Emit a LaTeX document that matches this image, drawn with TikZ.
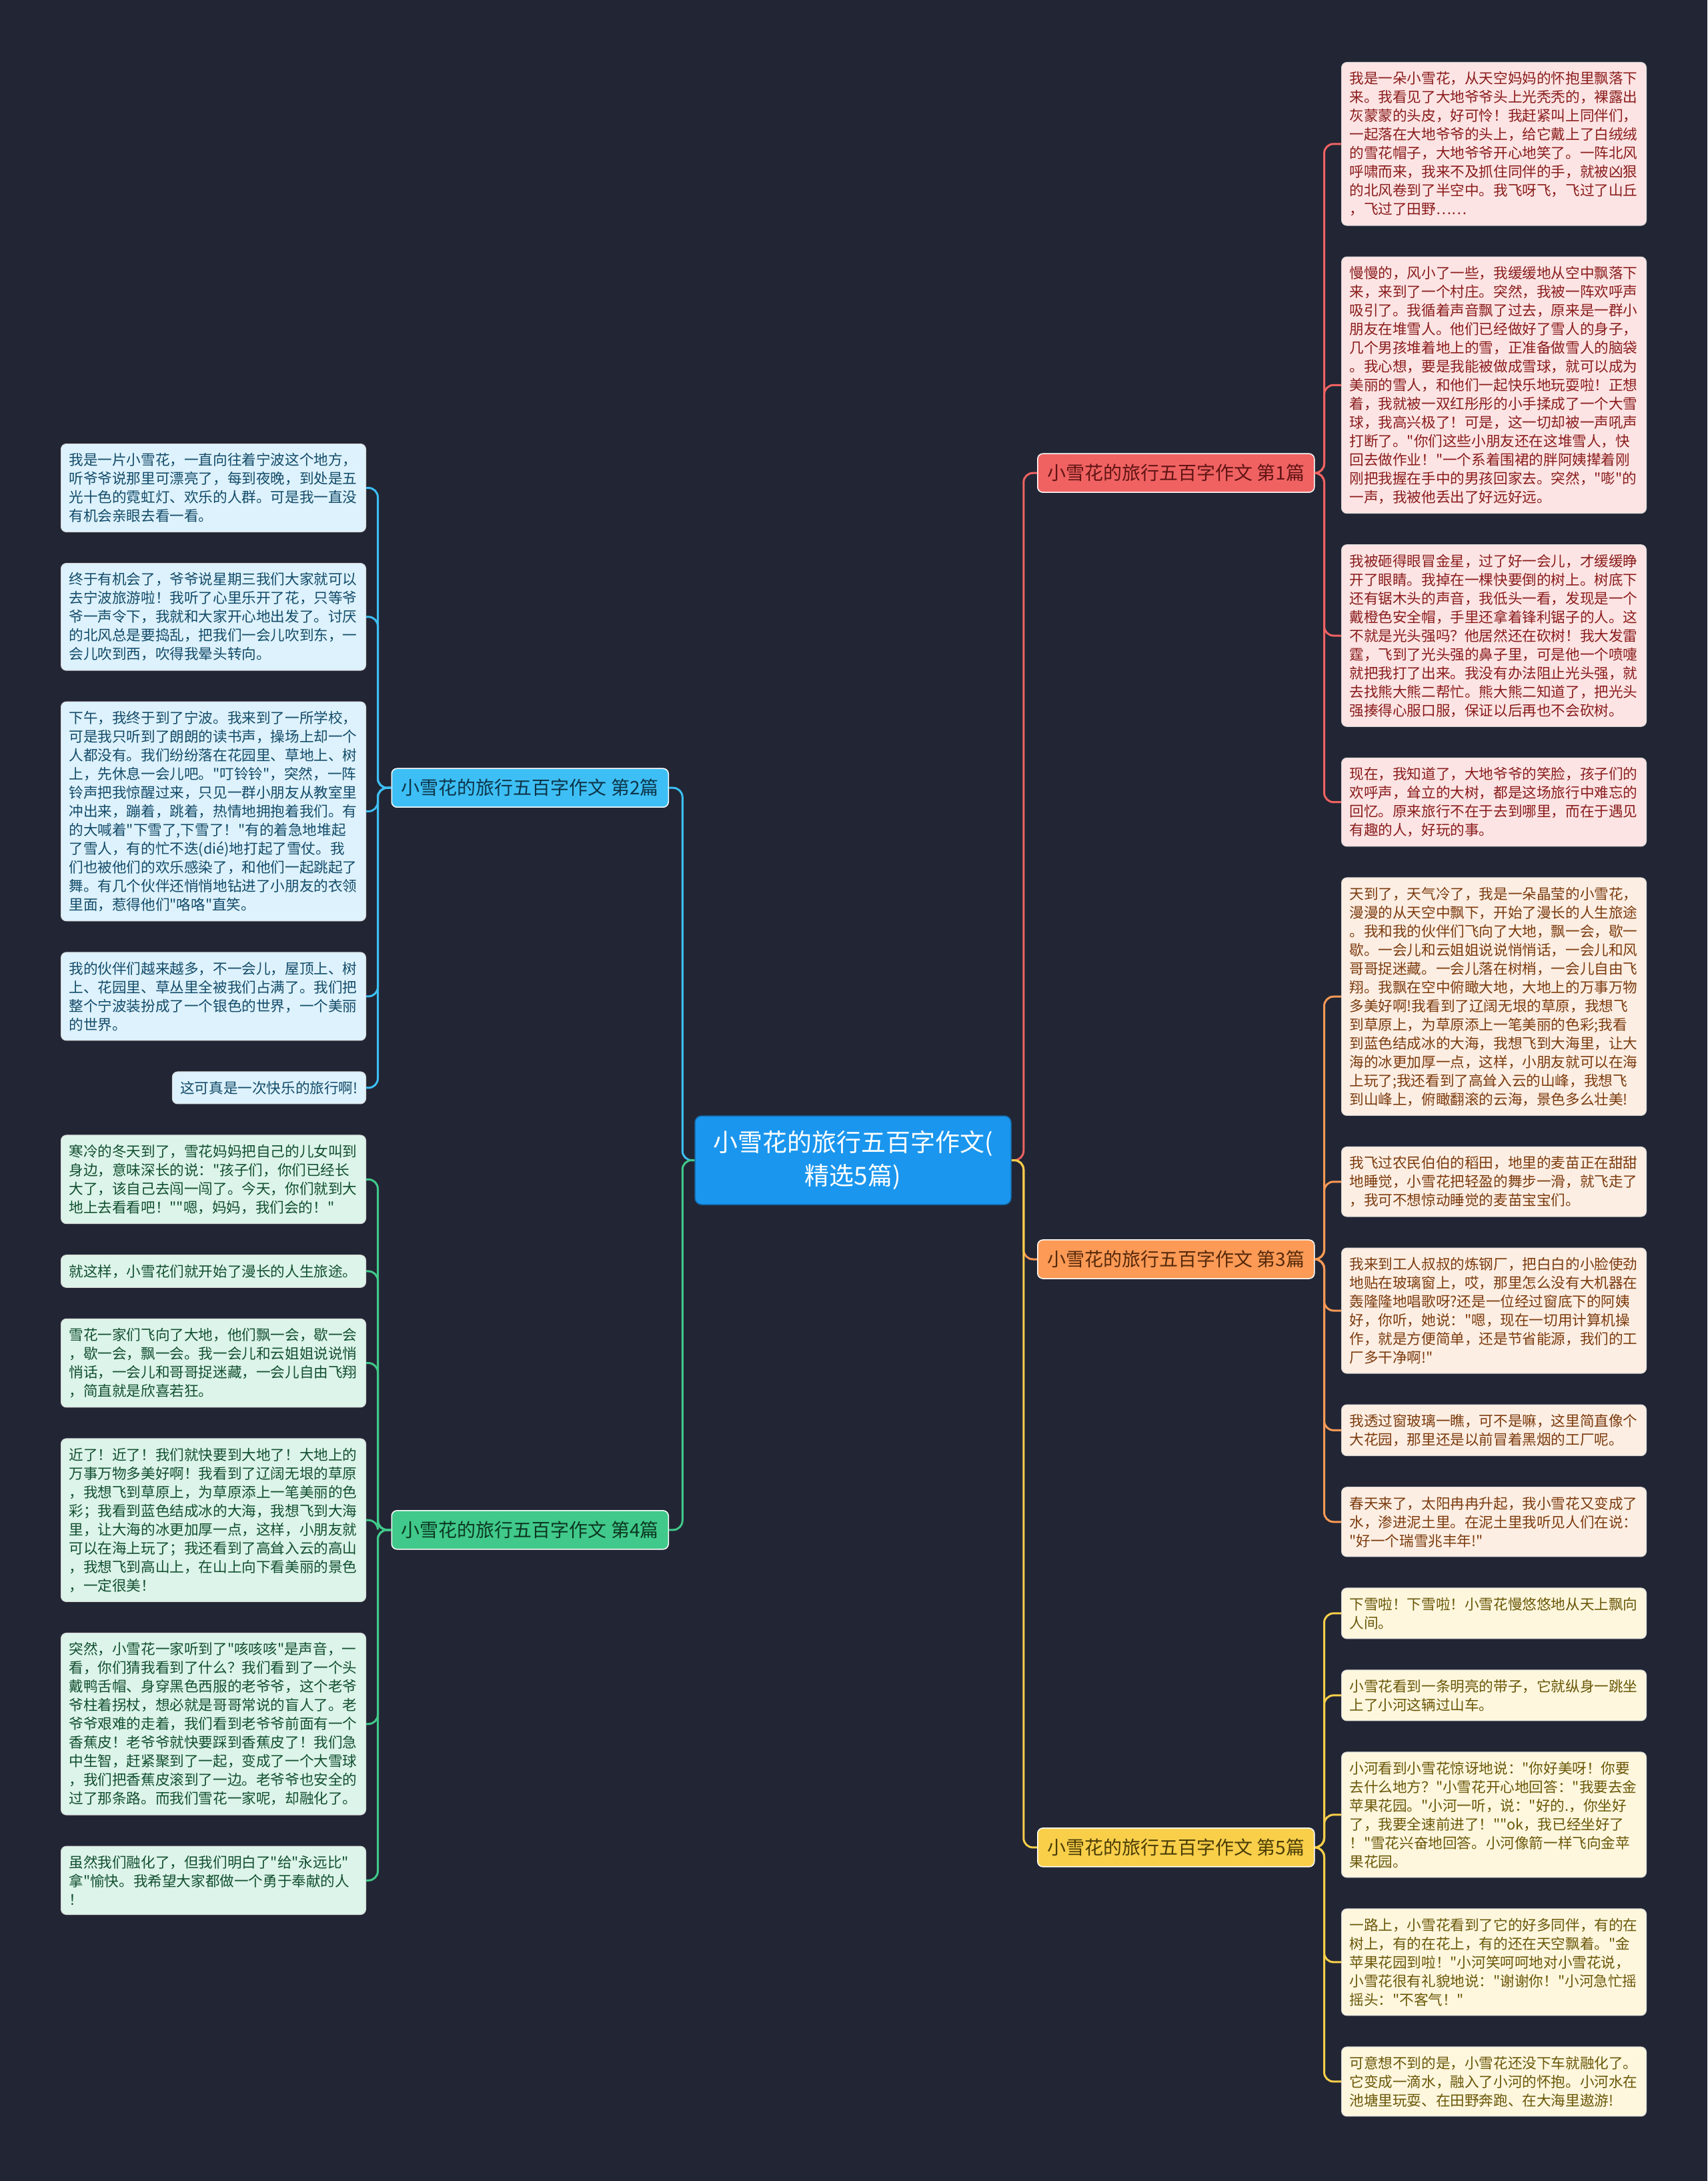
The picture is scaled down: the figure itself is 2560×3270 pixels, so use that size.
\documentclass[tikz,border=0pt]{standalone}
\usepackage{fontspec}
\setmainfont{Noto Sans CJK SC}[Ligatures=TeXOff]
\usetikzlibrary{positioning,calc}

\definecolor{bgdark}{HTML}{222634}
\definecolor{rootblue}{HTML}{1A96EE}
\definecolor{redmain}{HTML}{F06262}
\definecolor{redleaf}{HTML}{FDE4E4}
\definecolor{redtext}{HTML}{8A1C1C}
\definecolor{orgmain}{HTML}{FC9A56}
\definecolor{orgleaf}{HTML}{FDEEE3}
\definecolor{orgtext}{HTML}{7B3B0E}
\definecolor{yelmain}{HTML}{F9CF4A}
\definecolor{yelleaf}{HTML}{FEF7DE}
\definecolor{yeltext}{HTML}{6A5708}
\definecolor{bluemain}{HTML}{3DBFF5}
\definecolor{blueleaf}{HTML}{DDF2FC}
\definecolor{bluetext}{HTML}{134B69}
\definecolor{grnmain}{HTML}{40C98A}
\definecolor{grnleaf}{HTML}{DCF4E9}
\definecolor{grntext}{HTML}{124F30}

\newcommand{\leaffont}{\fontsize{21.6}{28}\selectfont}
\newcommand{\branchfont}{\fontsize{28}{34}\selectfont}
\newcommand{\rootfont}{\fontsize{37}{50}\selectfont}

\begin{document}
\begin{tikzpicture}[x=1pt, y=-1pt,
  leaf/.style={rounded corners=8pt, inner xsep=12pt, inner ysep=14pt, align=left,
    text width=433pt, font=\leaffont, draw=white!85!black, line width=1pt},
  branch/.style={rounded corners=8pt, minimum width=415pt, minimum height=58pt,
    inner sep=0pt, font=\branchfont, draw=white, line width=1.5pt},
  link/.style={line width=3pt, rounded corners=14pt}]
\fill[bgdark] (0,0) rectangle (2560,3270);
\useasboundingbox (0,0) rectangle (2560,3270);

% right side leaves
\node[leaf, fill=redleaf, text=redtext, anchor=north west] (r1a) at (2011,93)
 {我是一朵小雪花，从天空妈妈的怀抱里飘落下\\来。我看见了大地爷爷头上光秃秃的，裸露出\\灰蒙蒙的头皮，好可怜！我赶紧叫上同伴们，\\一起落在大地爷爷的头上，给它戴上了白绒绒\\的雪花帽子，大地爷爷开心地笑了。一阵北风\\呼啸而来，我来不及抓住同伴的手，就被凶狠\\的北风卷到了半空中。我飞呀飞，飞过了山丘\\，飞过了田野……};
\node[leaf, fill=redleaf, text=redtext, below=46pt of r1a.south west, anchor=north west] (r1b)
 {慢慢的，风小了一些，我缓缓地从空中飘落下\\来，来到了一个村庄。突然，我被一阵欢呼声\\吸引了。我循着声音飘了过去，原来是一群小\\朋友在堆雪人。他们已经做好了雪人的身子，\\几个男孩堆着地上的雪，正准备做雪人的脑袋\\。我心想，要是我能被做成雪球，就可以成为\\美丽的雪人，和他们一起快乐地玩耍啦！正想\\着，我就被一双红彤彤的小手揉成了一个大雪\\球，我高兴极了！可是，这一切却被一声吼声\\打断了。"你们这些小朋友还在这堆雪人，快\\回去做作业！"一个系着围裙的胖阿姨撵着刚\\刚把我握在手中的男孩回家去。突然，"嘭"的\\一声，我被他丢出了好远好远。};
\node[leaf, fill=redleaf, text=redtext, below=46pt of r1b.south west, anchor=north west] (r1c)
 {我被砸得眼冒金星，过了好一会儿，才缓缓睁\\开了眼睛。我掉在一棵快要倒的树上。树底下\\还有锯木头的声音，我低头一看，发现是一个\\戴橙色安全帽，手里还拿着锋利锯子的人。这\\不就是光头强吗？他居然还在砍树！我大发雷\\霆，飞到了光头强的鼻子里，可是他一个喷嚏\\就把我打了出来。我没有办法阻止光头强，就\\去找熊大熊二帮忙。熊大熊二知道了，把光头\\强揍得心服口服，保证以后再也不会砍树。};
\node[leaf, fill=redleaf, text=redtext, below=46pt of r1c.south west, anchor=north west] (r1d)
 {现在，我知道了，大地爷爷的笑脸，孩子们的\\欢呼声，耸立的大树，都是这场旅行中难忘的\\回忆。原来旅行不在于去到哪里，而在于遇见\\有趣的人，好玩的事。};
\node[leaf, fill=orgleaf, text=orgtext, below=46pt of r1d.south west, anchor=north west] (r3a)
 {天到了，天气冷了，我是一朵晶莹的小雪花，\\漫漫的从天空中飘下，开始了漫长的人生旅途\\。我和我的伙伴们飞向了大地，飘一会，歇一\\歇。一会儿和云姐姐说说悄悄话，一会儿和风\\哥哥捉迷藏。一会儿落在树梢，一会儿自由飞\\翔。我飘在空中俯瞰大地，大地上的万事万物\\多美好啊!我看到了辽阔无垠的草原，我想飞\\到草原上，为草原添上一笔美丽的色彩;我看\\到蓝色结成冰的大海，我想飞到大海里，让大\\海的冰更加厚一点，这样，小朋友就可以在海\\上玩了;我还看到了高耸入云的山峰，我想飞\\到山峰上，俯瞰翻滚的云海，景色多么壮美!};
\node[leaf, fill=orgleaf, text=orgtext, below=46pt of r3a.south west, anchor=north west] (r3b)
 {我飞过农民伯伯的稻田，地里的麦苗正在甜甜\\地睡觉，小雪花把轻盈的舞步一滑，就飞走了\\，我可不想惊动睡觉的麦苗宝宝们。};
\node[leaf, fill=orgleaf, text=orgtext, below=46pt of r3b.south west, anchor=north west] (r3c)
 {我来到工人叔叔的炼钢厂，把白白的小脸使劲\\地贴在玻璃窗上，哎，那里怎么没有大机器在\\轰隆隆地唱歌呀?还是一位经过窗底下的阿姨\\好，你听，她说："嗯，现在一切用计算机操\\作，就是方便简单，还是节省能源，我们的工\\厂多干净啊!"};
\node[leaf, fill=orgleaf, text=orgtext, below=46pt of r3c.south west, anchor=north west] (r3d)
 {我透过窗玻璃一瞧，可不是嘛，这里简直像个\\大花园，那里还是以前冒着黑烟的工厂呢。};
\node[leaf, fill=orgleaf, text=orgtext, below=46pt of r3d.south west, anchor=north west] (r3e)
 {春天来了，太阳冉冉升起，我小雪花又变成了\\水，渗进泥土里。在泥土里我听见人们在说：\\"好一个瑞雪兆丰年!"};
\node[leaf, fill=yelleaf, text=yeltext, below=46pt of r3e.south west, anchor=north west] (r5a)
 {下雪啦！下雪啦！小雪花慢悠悠地从天上飘向\\人间。};
\node[leaf, fill=yelleaf, text=yeltext, below=46pt of r5a.south west, anchor=north west] (r5b)
 {小雪花看到一条明亮的带子，它就纵身一跳坐\\上了小河这辆过山车。};
\node[leaf, fill=yelleaf, text=yeltext, below=46pt of r5b.south west, anchor=north west] (r5c)
 {小河看到小雪花惊讶地说："你好美呀！你要\\去什么地方？"小雪花开心地回答："我要去金\\苹果花园。"小河一听，说："好的.，你坐好\\了，我要全速前进了！""ok，我已经坐好了\\！"雪花兴奋地回答。小河像箭一样飞向金苹\\果花园。};
\node[leaf, fill=yelleaf, text=yeltext, below=46pt of r5c.south west, anchor=north west] (r5d)
 {一路上，小雪花看到了它的好多同伴，有的在\\树上，有的在花上，有的还在天空飘着。"金\\苹果花园到啦！"小河笑呵呵地对小雪花说，\\小雪花很有礼貌地说："谢谢你！"小河急忙摇\\摇头："不客气！"};
\node[leaf, fill=yelleaf, text=yeltext, below=46pt of r5d.south west, anchor=north west] (r5e)
 {可意想不到的是，小雪花还没下车就融化了。\\它变成一滴水，融入了小河的怀抱。小河水在\\池塘里玩耍、在田野奔跑、在大海里遨游!};

% left side leaves
\node[leaf, fill=blueleaf, text=bluetext, anchor=north east] (l2a) at (549,665)
 {我是一片小雪花，一直向往着宁波这个地方，\\听爷爷说那里可漂亮了，每到夜晚，到处是五\\光十色的霓虹灯、欢乐的人群。可是我一直没\\有机会亲眼去看一看。};
\node[leaf, fill=blueleaf, text=bluetext, below=46pt of l2a.south east, anchor=north east] (l2b)
 {终于有机会了，爷爷说星期三我们大家就可以\\去宁波旅游啦！我听了心里乐开了花，只等爷\\爷一声令下，我就和大家开心地出发了。讨厌\\的北风总是要捣乱，把我们一会儿吹到东，一\\会儿吹到西，吹得我晕头转向。};
\node[leaf, fill=blueleaf, text=bluetext, below=46pt of l2b.south east, anchor=north east] (l2c)
 {下午，我终于到了宁波。我来到了一所学校，\\可是我只听到了朗朗的读书声，操场上却一个\\人都没有。我们纷纷落在花园里、草地上、树\\上，先休息一会儿吧。"叮铃铃"，突然，一阵\\铃声把我惊醒过来，只见一群小朋友从教室里\\冲出来，蹦着，跳着，热情地拥抱着我们。有\\的大喊着"下雪了,下雪了！"有的着急地堆起\\了雪人，有的忙不迭(dié)地打起了雪仗。我\\们也被他们的欢乐感染了，和他们一起跳起了\\舞。有几个伙伴还悄悄地钻进了小朋友的衣领\\里面，惹得他们"咯咯"直笑。};
\node[leaf, fill=blueleaf, text=bluetext, below=46pt of l2c.south east, anchor=north east] (l2d)
 {我的伙伴们越来越多，不一会儿，屋顶上、树\\上、花园里、草丛里全被我们占满了。我们把\\整个宁波装扮成了一个银色的世界，一个美丽\\的世界。};
\node[leaf, fill=blueleaf, text=bluetext, text width=, below=46pt of l2d.south east, anchor=north east] (l2e)
 {这可真是一次快乐的旅行啊!};
\node[leaf, fill=grnleaf, text=grntext, below=46pt of l2e.south east, anchor=north east] (l4a)
 {寒冷的冬天到了，雪花妈妈把自己的儿女叫到\\身边，意味深长的说："孩子们，你们已经长\\大了，该自己去闯一闯了。今天，你们就到大\\地上去看看吧！""嗯，妈妈，我们会的！"};
\node[leaf, fill=grnleaf, text=grntext, below=46pt of l4a.south east, anchor=north east] (l4b)
 {就这样，小雪花们就开始了漫长的人生旅途。};
\node[leaf, fill=grnleaf, text=grntext, below=46pt of l4b.south east, anchor=north east] (l4c)
 {雪花一家们飞向了大地，他们飘一会，歇一会\\，歇一会，飘一会。我一会儿和云姐姐说说悄\\悄话，一会儿和哥哥捉迷藏，一会儿自由飞翔\\，简直就是欣喜若狂。};
\node[leaf, fill=grnleaf, text=grntext, below=46pt of l4c.south east, anchor=north east] (l4d)
 {近了！近了！我们就快要到大地了！大地上的\\万事万物多美好啊！我看到了辽阔无垠的草原\\，我想飞到草原上，为草原添上一笔美丽的色\\彩；我看到蓝色结成冰的大海，我想飞到大海\\里，让大海的冰更加厚一点，这样，小朋友就\\可以在海上玩了；我还看到了高耸入云的高山\\，我想飞到高山上，在山上向下看美丽的景色\\，一定很美！};
\node[leaf, fill=grnleaf, text=grntext, below=46pt of l4d.south east, anchor=north east] (l4e)
 {突然，小雪花一家听到了"咳咳咳"是声音，一\\看，你们猜我看到了什么？我们看到了一个头\\戴鸭舌帽、身穿黑色西服的老爷爷，这个老爷\\爷柱着拐杖，想必就是哥哥常说的盲人了。老\\爷爷艰难的走着，我们看到老爷爷前面有一个\\香蕉皮！老爷爷就快要踩到香蕉皮了！我们急\\中生智，赶紧聚到了一起，变成了一个大雪球\\，我们把香蕉皮滚到了一边。老爷爷也安全的\\过了那条路。而我们雪花一家呢，却融化了。};
\node[leaf, fill=grnleaf, text=grntext, below=46pt of l4e.south east, anchor=north east] (l4f)
 {虽然我们融化了，但我们明白了"给"永远比"\\拿"愉快。我希望大家都做一个勇于奉献的人\\！};

% branches
\coordinate (m1) at ($(r1a.center)!.5!(r1d.center)$);
\coordinate (m3) at ($(r3a.center)!.5!(r3e.center)$);
\coordinate (m5) at ($(r5a.center)!.5!(r5e.center)$);
\coordinate (m2) at ($(l2a.center)!.5!(l2e.center)$);
\coordinate (m4) at ($(l4a.center)!.5!(l4f.center)$);
\node[branch, fill=redmain, text=redtext!70!black, anchor=west] (b1) at (m1 -| 1555,0) {小雪花的旅行五百字作文 第1篇};
\node[branch, fill=orgmain, text=orgtext!70!black, anchor=west] (b3) at (m3 -| 1555,0) {小雪花的旅行五百字作文 第3篇};
\node[branch, fill=yelmain, text=yeltext!70!black, anchor=west] (b5) at (m5 -| 1555,0) {小雪花的旅行五百字作文 第5篇};
\node[branch, fill=bluemain, text=bluetext!70!black, anchor=east] (b2) at (m2 -| 1003,0) {小雪花的旅行五百字作文 第2篇};
\node[branch, fill=grnmain, text=grntext!70!black, anchor=east] (b4) at (m4 -| 1003,0) {小雪花的旅行五百字作文 第4篇};

\coordinate (m0) at ($(b1.center)!.5!(b5.center)$);
\node[rounded corners=10pt, fill=rootblue, draw=rootblue!70!black, line width=1.5pt, text=white,
  font=\rootfont, align=center, minimum width=474pt, minimum height=133pt] (root) at (m0 -| 1279,0)
  {小雪花的旅行五百字作文(\\精选5篇)};

% connectors
\draw[link, redmain] (root.east) -- ++(18,0) |- (b1.west);
\draw[link, orgmain] (root.east) -- ++(18,0) |- (b3.west);
\draw[link, yelmain] (root.east) -- ++(18,0) |- (b5.west);
\draw[link, bluemain] (root.west) -- ++(-18,0) |- (b2.east);
\draw[link, grnmain] (root.west) -- ++(-18,0) |- (b4.east);
\foreach \l in {r1a,r1b,r1c,r1d} \draw[link, redmain] (b1.east) -- ++(14,0) |- (\l.west);
\foreach \l in {r3a,r3b,r3c,r3d,r3e} \draw[link, orgmain] (b3.east) -- ++(14,0) |- (\l.west);
\foreach \l in {r5a,r5b,r5c,r5d,r5e} \draw[link, yelmain] (b5.east) -- ++(14,0) |- (\l.west);
\foreach \l in {l2a,l2b,l2c,l2d,l2e} \draw[link, bluemain] (b2.west) -- ++(-20,0) |- (\l.east);
\foreach \l in {l4a,l4b,l4c,l4d,l4e,l4f} \draw[link, grnmain] (b4.west) -- ++(-20,0) |- (\l.east);
\end{tikzpicture}
\end{document}
